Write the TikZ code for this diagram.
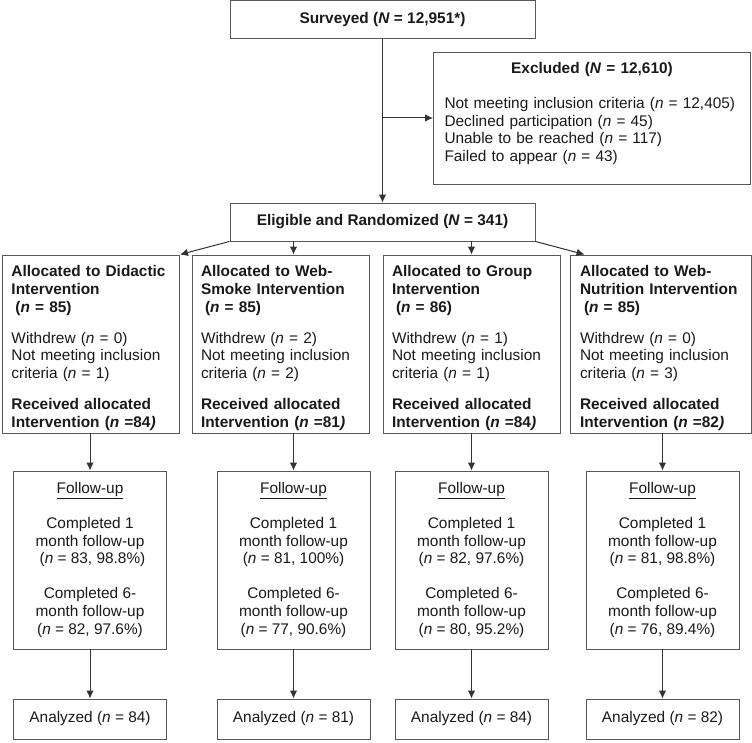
\documentclass[tikz,border=0pt]{standalone}
\usepackage{fontspec}
\setmainfont{Liberation Sans}
\usetikzlibrary{arrows.meta}
\hyphenpenalty=10000
\exhyphenpenalty=10000

\begin{document}
\begin{tikzpicture}[x=1pt,y=-1pt,
    box/.style={draw=black!65,line width=0.9pt,inner sep=0pt,text=black!90,font=\fontsize{15.4}{17.8}\selectfont},
    topbox/.style={box,minimum width=305pt,minimum height=38pt},
    allocbox/.style={box,align=left,inner xsep=9pt,text width=159pt,minimum height=178pt},
    fubox/.style={box,align=center,minimum width=153pt,minimum height=178pt},
    anbox/.style={box,minimum width=153pt,minimum height=40pt},
    arr/.style={draw=black!80,line width=1pt,-{Latex[length=8pt,width=7.5pt]}}]
    \useasboundingbox (0,0) rectangle (752,743);

    \node[topbox] (surv) at (382.5,19.5) {\bfseries Surveyed (\textit{N} = 12,951*)};
    \node[box,align=left,inner xsep=11pt,text width=295pt,minimum height=132pt] (excl) at (592,118)
        {{\centering\bfseries Excluded (\textit{N} = 12,610)\par}\vspace{17pt}
         Not meeting inclusion criteria (\textit{n} = 12,405)\\
         Declined participation (\textit{n} = 45)\\
         Unable to be reached (\textit{n} = 117)\\
         Failed to appear (\textit{n} = 43)\rule[-12pt]{0pt}{0pt}};
    \node[topbox] (elig) at (382.5,222) {\bfseries Eligible and Randomized (\textit{N} = 341)};

    \node[allocbox] (a1) at (91,344) {\rule{0pt}{19pt}\textbf{Allocated to Didactic}\\\textbf{Intervention}\\\hspace*{4pt}\textbf{(\textit{n} = 85)}\\[13pt]
        Withdrew (\textit{n} = 0)\\Not meeting inclusion\\criteria (\textit{n} = 1)\\[13pt]
        \textbf{Received allocated}\\\textbf{Intervention (\textit{n} =84\textit{)}}};
    \node[allocbox] (a2) at (280.5,344) {\rule{0pt}{19pt}\textbf{Allocated to Web-}\\\textbf{Smoke Intervention}\\\hspace*{4pt}\textbf{(\textit{n} = 85)}\\[13pt]
        Withdrew (\textit{n} = 2)\\Not meeting inclusion\\criteria (\textit{n} = 2)\\[13pt]
        \textbf{Received allocated}\\\textbf{Intervention (\textit{n} =81\textit{)}}};
    \node[allocbox] (a3) at (471.5,344) {\rule{0pt}{19pt}\textbf{Allocated to Group}\\\textbf{Intervention}\\\hspace*{4pt}\textbf{(\textit{n} = 86)}\\[13pt]
        Withdrew (\textit{n} = 1)\\Not meeting inclusion\\criteria (\textit{n} = 1)\\[13pt]
        \textbf{Received allocated}\\\textbf{Intervention (\textit{n} =84\textit{)}}};
    \node[allocbox,inner xsep=10pt,text width=161pt] (a4) at (660.5,344) {\rule{0pt}{19pt}\textbf{Allocated to Web-}\\\textbf{Nutrition Intervention}\\\hspace*{4pt}\textbf{(\textit{n} = 85)}\\[13pt]
        Withdrew (\textit{n} = 0)\\Not meeting inclusion\\criteria (\textit{n} = 3)\\[13pt]
        \textbf{Received allocated}\\\textbf{Intervention (\textit{n} =82\textit{)}}};

    \node[fubox] (f1) at (90,560) {\underline{Follow-up}\\[17pt]Completed 1\\month follow-up\\\hspace*{5pt}(\textit{n} = 83, 98.8\%)\\[17pt]
        Completed 6-\\month follow-up\\(\textit{n} = 82, 97.6\%)};
    \node[fubox] (f2) at (293.5,560) {\underline{Follow-up}\\[17pt]Completed 1\\month follow-up\\(\textit{n} = 81, 100\%)\\[17pt]
        Completed 6-\\month follow-up\\(\textit{n} = 77, 90.6\%)};
    \node[fubox] (f3) at (471.5,560) {\underline{Follow-up}\\[17pt]Completed 1\\month follow-up\\(\textit{n} = 82, 97.6\%)\\[17pt]
        Completed 6-\\month follow-up\\(\textit{n} = 80, 95.2\%)};
    \node[fubox] (f4) at (662.5,560) {\underline{Follow-up}\\[17pt]Completed 1\\month follow-up\\(\textit{n} = 81, 98.8\%)\\[17pt]
        Completed 6-\\month follow-up\\(\textit{n} = 76, 89.4\%)};

    \node[anbox] (n1) at (90,719) {Analyzed (\textit{n} = 84)};
    \node[anbox] (n2) at (293.5,719) {Analyzed (\textit{n} = 81)};
    \node[anbox] (n3) at (471.5,719) {Analyzed (\textit{n} = 84)};
    \node[anbox] (n4) at (662.5,719) {Analyzed (\textit{n} = 82)};

    \draw[arr] (surv) -- (elig);
    \draw[arr] (surv.south |- excl.west) -- (excl.west);
    \draw[arr] (elig.south west) -- (a1.north east);
    \draw[arr] (elig.south -| f2) -- (a2.north -| f2);
    \draw[arr] (elig.south -| f3) -- (a3.north -| f3);
    \draw[arr] (elig.south east) -- ([xshift=15pt]a4.north west);
    \draw[arr] (a1.south -| f1) -- (f1);
    \draw[arr] (a2.south -| f2) -- (f2);
    \draw[arr] (a3.south -| f3) -- (f3);
    \draw[arr] (a4.south -| f4) -- (f4);
    \draw[arr] (f1) -- (n1);
    \draw[arr] (f2) -- (n2);
    \draw[arr] (f3) -- (n3);
    \draw[arr] (f4) -- (n4);
\end{tikzpicture}
\end{document}
